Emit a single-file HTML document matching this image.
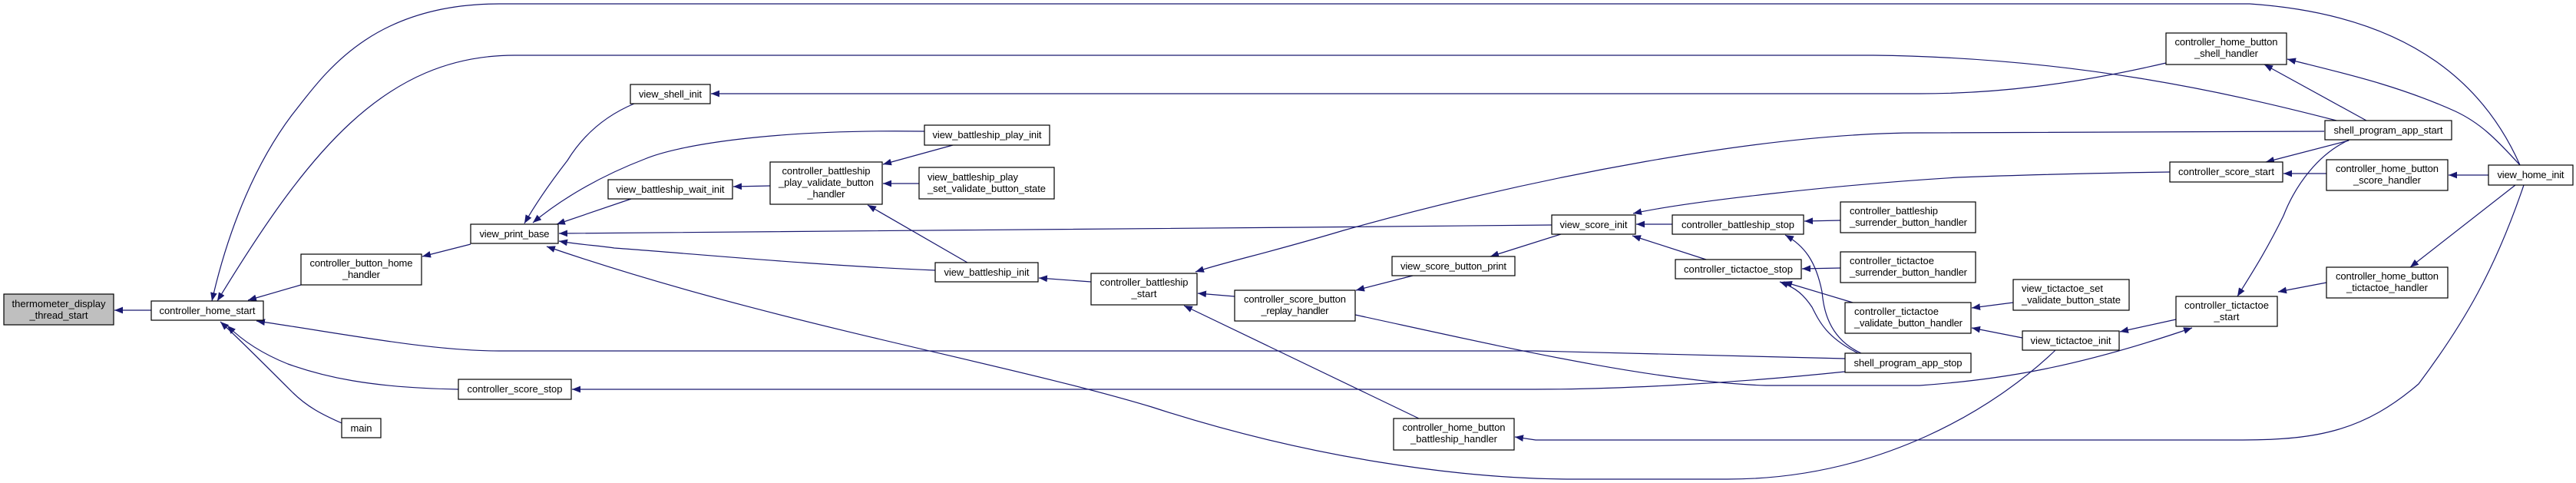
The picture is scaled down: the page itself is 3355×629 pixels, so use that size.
<!DOCTYPE html>
<html><head><meta charset="utf-8"><style>
html,body{margin:0;padding:0;background:#fff;}
svg{display:block;}
text{font-family:"Liberation Sans",sans-serif;font-size:13px;fill:#000;}
.n{fill:#fff;stroke:#000;stroke-width:1.2;}
.e{fill:none;stroke:#191970;stroke-width:1.2;}
</style></head><body>
<svg width="3355" height="629" viewBox="0 0 3355 629" xmlns="http://www.w3.org/2000/svg">
<defs>
<marker id="a" viewBox="0 0 10 8" refX="10" refY="4" markerWidth="11" markerHeight="9" markerUnits="userSpaceOnUse" orient="auto">
<path d="M0,0 L10,4 L0,8 Z" fill="#191970"/></marker>
</defs>
<g class="e" marker-end="url(#a)">
<path d="M197,404 L149,404"/>
<path d="M392,371 L323,391"/>
<path d="M3282,215 C3240,120 3150,20 2930,5 L650,5 C480,5 420,100 380,150 C320,230 290,330 276,392"/>
<path d="M3043,157 C2900,120 2700,75 2440,72 L670,72 C500,72 400,200 283,392"/>
<path d="M2403,467 L2000,457 L650,457 C560,457 450,435 334,418"/>
<path d="M597,507 C480,505 420,490 375,474 C340,460 315,443 296,424"/>
<path d="M445,551 C420,540 400,530 380,510 C340,470 310,440 287,419"/>
<path d="M613,318 L550,334"/>
<path d="M826,135 C790,150 760,175 739,209 C715,240 695,270 683,291"/>
<path d="M1204,171 C1000,168 880,190 840,207 C780,230 730,260 694,290"/>
<path d="M822,259 L725,292"/>
<path d="M2021,293 L1700,296 L728,304"/>
<path d="M1218,352 C1050,345 900,330 800,323 C780,320 750,318 728,314"/>
<path d="M2677,456 C2600,530 2450,624 2250,624 L2050,624 C1900,624 1700,595 1500,530 C1300,470 1000,420 712,321"/>
<path d="M1003,242 L955,243"/>
<path d="M1241,189 L1150,214"/>
<path d="M1197,239 L1150,239"/>
<path d="M1260,342 L1130,267"/>
<path d="M1421,367 L1353,362"/>
<path d="M1608,386 L1560,382"/>
<path d="M1848,545 L1542,398"/>
<path d="M3027,171 L2500,173 C2300,173 2000,230 1750,300 C1650,330 1600,340 1557,354"/>
<path d="M1840,359 L1766,378"/>
<path d="M1765,410 C1950,450 2150,497 2300,502 L2500,502 C2600,495 2700,480 2855,427"/>
<path d="M2403,484 C2250,500 2100,507 2000,507 L745,507"/>
<path d="M2033,305 L1941,334"/>
<path d="M2178,292 L2131,292"/>
<path d="M2222,338 L2126,307"/>
<path d="M2826,224 C2700,226 2600,229 2550,231 C2400,240 2200,262 2127,278"/>
<path d="M2397,287 L2350,288"/>
<path d="M2397,349 L2347,350"/>
<path d="M2413,394 L2323,367"/>
<path d="M2424,460 C2380,440 2375,400 2373,380 C2365,340 2350,320 2325,306"/>
<path d="M2420,460 C2380,440 2370,420 2360,400 C2350,385 2340,375 2318,367"/>
<path d="M2622,394 L2568,401"/>
<path d="M2634,440 L2568,427"/>
<path d="M2834,416 L2761,432"/>
<path d="M3030,368 L2967,380"/>
<path d="M3276,241 L3139,348"/>
<path d="M3287,241 C3250,350 3210,420 3150,500 C3080,560 3020,573 2920,573 L2000,573 L1973,569"/>
<path d="M3060,182 C3020,200 2990,240 2974,281 C2950,330 2930,360 2914,386"/>
<path d="M3059,183 L2951,211"/>
<path d="M3030,226 L2974,226"/>
<path d="M3241,228 L3189,228"/>
<path d="M3282,215 C3250,180 3230,160 3198,145 C3120,110 3050,95 2979,77"/>
<path d="M3082,157 L2949,84"/>
<path d="M2821,82 C2700,110 2600,122 2500,122 L926,122"/>
</g>
<g>
<rect x="5" y="383" width="143" height="40" fill="#bfbfbf" stroke="#000" stroke-width="1.2"/>
<text x="76.5" y="400" text-anchor="middle" textLength="122">thermometer_display</text>
<text x="76.5" y="415" text-anchor="middle" textLength="76">_thread_start</text>
<rect class="n" x="197" y="392" width="146" height="25"/><text x="270" y="409" text-anchor="middle" textLength="125">controller_home_start</text>
<rect class="n" x="392" y="331" width="157" height="40"/><text x="470.5" y="347" text-anchor="middle" textLength="134">controller_button_home</text><text x="470.5" y="362" text-anchor="middle" textLength="49">_handler</text>
<rect class="n" x="613" y="292" width="114" height="25"/><text x="670" y="309" text-anchor="middle" textLength="91">view_print_base</text>
<rect class="n" x="597" y="494" width="147" height="26"/><text x="670.5" y="511" text-anchor="middle" textLength="124">controller_score_stop</text>
<rect class="n" x="445" y="545" width="51" height="25"/><text x="470.5" y="562" text-anchor="middle" textLength="28">main</text>
<rect class="n" x="821" y="110" width="104" height="25"/><text x="873" y="127" text-anchor="middle" textLength="82">view_shell_init</text>
<rect class="n" x="1204" y="163" width="163" height="26"/><text x="1285.5" y="180" text-anchor="middle" textLength="142">view_battleship_play_init</text>
<rect class="n" x="1003" y="211" width="146" height="55"/><text x="1076" y="227" text-anchor="middle" textLength="115">controller_battleship</text><text x="1076" y="242" text-anchor="middle" textLength="124">_play_validate_button</text><text x="1076" y="257" text-anchor="middle" textLength="49">_handler</text>
<rect class="n" x="1197" y="218" width="176" height="41"/><text x="1285" y="235" text-anchor="middle" textLength="118" dx="-18">view_battleship_play</text><text x="1285" y="250" text-anchor="middle" textLength="154">_set_validate_button_state</text>
<rect class="n" x="792" y="234" width="162" height="25"/><text x="873" y="251" text-anchor="middle" textLength="141">view_battleship_wait_init</text>
<rect class="n" x="1218" y="342" width="134" height="25"/><text x="1285" y="359" text-anchor="middle" textLength="111">view_battleship_init</text>
<rect class="n" x="1421" y="356" width="138" height="41"/><text x="1490" y="372" text-anchor="middle" textLength="115">controller_battleship</text><text x="1490" y="387" text-anchor="middle" textLength="33">_start</text>
<rect class="n" x="1608" y="378" width="157" height="40"/><text x="1686.5" y="394" text-anchor="middle" textLength="133">controller_score_button</text><text x="1686.5" y="409" text-anchor="middle" textLength="88">_replay_handler</text>
<rect class="n" x="2021" y="280" width="109" height="25"/><text x="2075.5" y="297" text-anchor="middle" textLength="88">view_score_init</text>
<rect class="n" x="1813" y="334" width="160" height="25"/><text x="1893" y="351" text-anchor="middle" textLength="138">view_score_button_print</text>
<rect class="n" x="2178" y="280" width="171" height="25"/><text x="2263.5" y="297" text-anchor="middle" textLength="147">controller_battleship_stop</text>
<rect class="n" x="2182" y="338" width="164" height="25"/><text x="2264" y="355" text-anchor="middle" textLength="142">controller_tictactoe_stop</text>
<rect class="n" x="2397" y="263" width="176" height="40"/><text x="2409" y="279" textLength="115">controller_battleship</text><text x="2409" y="294" textLength="153">_surrender_button_handler</text>
<rect class="n" x="2397" y="328" width="176" height="40"/><text x="2409" y="344" textLength="110">controller_tictactoe</text><text x="2409" y="359" textLength="153">_surrender_button_handler</text>
<rect class="n" x="2403" y="394" width="164" height="40"/><text x="2415" y="410" textLength="110">controller_tictactoe</text><text x="2415" y="425" textLength="141">_validate_button_handler</text>
<rect class="n" x="2403" y="460" width="164" height="25"/><text x="2485" y="477" text-anchor="middle" textLength="141">shell_program_app_stop</text>
<rect class="n" x="1815" y="545" width="157" height="41"/><text x="1893.5" y="561" text-anchor="middle" textLength="134">controller_home_button</text><text x="1893.5" y="576" text-anchor="middle" textLength="113">_battleship_handler</text>
<rect class="n" x="2821" y="43" width="157" height="41"/><text x="2899.5" y="59" text-anchor="middle" textLength="134">controller_home_button</text><text x="2899.5" y="74" text-anchor="middle" textLength="83">_shell_handler</text>
<rect class="n" x="3028" y="157" width="165" height="25"/><text x="3110.5" y="174" text-anchor="middle" textLength="142">shell_program_app_start</text>
<rect class="n" x="2826" y="211" width="147" height="26"/><text x="2899.5" y="228" text-anchor="middle" textLength="125">controller_score_start</text>
<rect class="n" x="3030" y="208" width="158" height="40"/><text x="3109" y="224" text-anchor="middle" textLength="134">controller_home_button</text><text x="3109" y="239" text-anchor="middle" textLength="88">_score_handler</text>
<rect class="n" x="3241" y="215" width="110" height="26"/><text x="3296" y="232" text-anchor="middle" textLength="87">view_home_init</text>
<rect class="n" x="3030" y="348" width="158" height="40"/><text x="3109" y="364" text-anchor="middle" textLength="134">controller_home_button</text><text x="3109" y="379" text-anchor="middle" textLength="106">_tictactoe_handler</text>
<rect class="n" x="2834" y="386" width="132" height="39"/><text x="2900" y="402" text-anchor="middle" textLength="110">controller_tictactoe</text><text x="2900" y="417" text-anchor="middle" textLength="33">_start</text>
<rect class="n" x="2622" y="364" width="151" height="40"/><text x="2633" y="380" textLength="106">view_tictactoe_set</text><text x="2633" y="395" textLength="129">_validate_button_state</text>
<rect class="n" x="2634" y="431" width="126" height="25"/><text x="2697" y="448" text-anchor="middle" textLength="105">view_tictactoe_init</text>
</g>
</svg>
</body></html>
